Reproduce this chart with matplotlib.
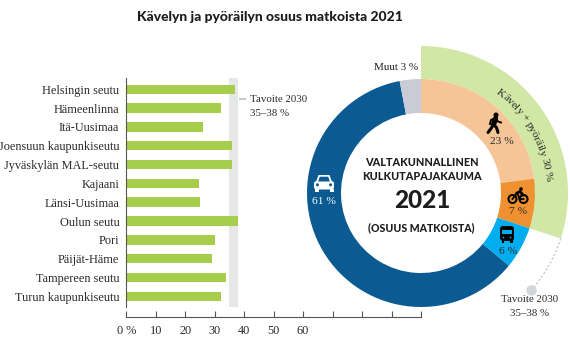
import matplotlib
matplotlib.use("Agg")
import matplotlib.pyplot as plt
from matplotlib.patches import Circle, FancyBboxPatch, Rectangle, Polygon
from matplotlib.textpath import TextPath
from matplotlib.font_manager import FontProperties
import numpy as np

W, H = 570, 350
SERIF = "Liberation Serif"
SANS = "Lato"
TEXT = "#2b2a29"

regions = ["Helsingin seutu", "Hämeenlinna", "Itä-Uusimaa", "Joensuun kaupunkiseutu",
           "Jyväskylän MAL-seutu", "Kajaani", "Länsi-Uusimaa", "Oulun seutu", "Pori",
           "Päijät-Häme", "Tampereen seutu", "Turun kaupunkiseutu"]
shares = [37, 32, 26, 36, 36, 24.7, 25, 38, 30, 29, 34, 32]
target = (35, 38)
x_ticks = [0, 10, 20, 30, 40, 50, 60, 70, 80, 90, 100]
x_labels = ["0 %", "10", "20", "30", "40", "50", "60", "", "", "", ""]

modes = ["Kävely", "Pyöräily", "Joukkoliikenne", "Henkilöauto", "Muut"]
mode_shares = [23, 7, 6, 61, 3]
mode_colors = ["#f5c597", "#ef9130", "#00aeef", "#0b5a92", "#c9ccd5"]
active_share = [30, 70]
target_mid = 36.5

fig = plt.figure(figsize=(W / 100, H / 100), dpi=100, facecolor="white")


def px_axes(left, top, right, bottom):
    return fig.add_axes([left / W, 1 - bottom / H, (right - left) / W, (bottom - top) / H])


# ---------- bars ----------
ax = px_axes(126.3, 78, 421, 307)
ax.set_xlim(0, 100)
ax.set_ylim(11.57, -0.6)
ax.patch.set_alpha(0)
ax.axvspan(*target, color="#e6e7e8", lw=0, zorder=1)
ax.barh(range(len(regions)), shares, height=0.5, color="#a6ce4c", zorder=2)
for s in ("top", "right"):
    ax.spines[s].set_visible(False)
ax.spines["left"].set_color("#555555")
ax.spines["left"].set_linewidth(0.8)
ax.spines["bottom"].set_position(("outward", 7.2))
ax.spines["bottom"].set_color("#555555")
ax.spines["bottom"].set_linewidth(0.8)
ax.set_yticks(range(len(regions)), regions, family=SERIF, fontsize=8.8, color=TEXT,
              va="center_baseline")
ax.tick_params(axis="y", length=0, pad=5)
ax.set_xticks(x_ticks, x_labels, family=SERIF, fontsize=8.8, color=TEXT)
ax.tick_params(axis="x", direction="in", length=4, width=0.8, color="#555555", pad=5.5)

# ---------- donut ----------
R_OUT = 147
R = 114
R_IN = 80
dx = px_axes(421 - 150, 193 - 150, 421 + 150, 193 + 150)
dx.patch.set_alpha(0)
dx.pie(active_share, colors=["#d1e7a6", "none"], startangle=90, counterclock=False,
       radius=R_OUT, wedgeprops=dict(width=R_OUT - R, lw=0))
dx.pie(mode_shares, colors=mode_colors, startangle=90, counterclock=False,
       radius=R, wedgeprops=dict(width=R - R_IN, lw=0))
dx.set_xlim(-150, 150)
dx.set_ylim(-150, 150)
dx.set_aspect("equal")

# target arc (clockwise from the end of the green band)
a = np.radians(np.linspace(active_share[0] * 3.6, target_mid * 3.6, 30))
dx.plot(R_OUT * np.sin(a), R_OUT * np.cos(a), ls=(0, (1.5, 1.5)), lw=1, color="#c8cacb")
dx.plot([R_OUT * np.sin(a[-1])], [R_OUT * np.cos(a[-1])], "o", ms=6.5, color="#d4d6d7")

# ---------- overlay in pixel coordinates ----------
ov = px_axes(0, 0, W, H)
ov.set_xlim(0, W)
ov.set_ylim(H, 0)
ov.axis("off")
ov.patch.set_alpha(0)


def T(x, y, s, fam=SERIF, size=8.9, c=TEXT, ha="center", w="normal", **kw):
    ov.text(x, y, s, family=fam, fontsize=size, color=c, ha=ha, va="center", weight=w, **kw)


T(269.5, 17, "Kävelyn ja pyöräilyn osuus matkoista 2021", SANS, 10.0, "#1d1d1b", w="black")
T(250, 99, "Tavoite 2030", ha="left", size=7.8)
T(250, 113, "35–38 %", ha="left", size=7.8)
ov.plot([239, 246], [99, 99], color="#c8cacb", lw=1.6, solid_capstyle="butt")

T(418, 68, "Muut 3 %", ha="right", size=8.0, c="#1d1d1b")
T(530, 300, "Tavoite 2030", size=7.8)
T(530, 313.5, "35–38 %", size=7.8)
T(501.5, 141, "23 %", size=8.2)
T(518, 212, "7 %", size=8.2)
T(508, 251, "6 %", size=8.2)
T(324, 201, "61 %", size=8.2, c="white")

T(422, 162, "VALTAKUNNALLINEN", SANS, 7.8, "#1d1d1b", w="black")
T(422, 176, "KULKUTAPAJAKAUMA", SANS, 7.8, "#1d1d1b", w="black")
T(422, 200, "2021", SANS, 17.5, "#1d1d1b", w="black")
T(421, 228, "(OSUUS MATKOISTA)", SANS, 7.6, "#1d1d1b", w="black")

# curved label: glyphs on a common baseline, spaced by font advances
label = "Kävely + pyöräily 30 %"
size = 8.2
fp = FontProperties(family=SERIF, size=size)
r_base = 125
start = 37.0
span = 47.5


def adv(s):
    e = TextPath((0, 0), s + "|", prop=fp).get_extents()
    return e.x1


bar = adv("")
cum = [0.0] + [adv(label[:i + 1]) - bar for i in range(len(label))]
scale = np.radians(span) / cum[-1]
for i, ch in enumerate(label):
    th = start + np.degrees((cum[i] + cum[i + 1]) / 2 * scale)
    x = 421 + r_base * np.sin(np.radians(th))
    y = 193 - r_base * np.cos(np.radians(th))
    ov.text(x, y, ch, family=SERIF, fontsize=size, color=TEXT, rotation=-th,
            rotation_mode="anchor", ha="center", va="baseline")

# icons
k = "#000000"
# walker
cx, cy = 494, 123
ov.add_patch(Circle((cx + 2, cy - 8), 2.5, color=k, lw=0))
ov.plot([cx + 1.5, cx - 0.5], [cy - 4.5, cy + 1.5], color=k, lw=3.8, solid_capstyle="round")
ov.plot([cx - 0.5, cx - 3, cx - 6], [cy + 1.5, cy + 5.5, cy + 9.5], color=k, lw=2.2, solid_capstyle="round")
ov.plot([cx - 0.5, cx + 2.5, cx + 4], [cy + 1.5, cy + 4.5, cy + 9.5], color=k, lw=2.2, solid_capstyle="round")
ov.plot([cx + 1.5, cx - 3, cx - 4], [cy - 5, cy - 3, cy + 1], color=k, lw=1.4)
ov.plot([cx + 1.5, cx + 4, cx + 7], [cy - 5, cy - 1.5, cy - 0.5], color=k, lw=1.4)

# bike
cx, cy = 518, 196
for ox in (-5.5, 5.5):
    ov.add_patch(Circle((cx + ox, cy + 3), 4, fc="none", ec=k, lw=1.5))
ov.add_patch(Circle((cx + 3, cy - 7), 1.8, color=k, lw=0))
ov.plot([cx - 5.5, cx - 1, cx + 2, cx + 5.5], [cy + 3, cy - 3, cy + 3, cy + 3], color=k, lw=1.3)
ov.plot([cx - 1, cx + 2, cx + 5], [cy - 3, cy - 4.5, cy - 1], color=k, lw=2)

# bus
cx, cy = 507, 234
ov.add_patch(FancyBboxPatch((cx - 6.5, cy - 7.5), 13, 14, boxstyle="round,pad=0,rounding_size=2.5", fc=k, ec=k, lw=0.6))
ov.add_patch(Rectangle((cx - 4.6, cy - 4.5), 4.2, 4.5, fc="#00aeef", lw=0))
ov.add_patch(Rectangle((cx + 0.4, cy - 4.5), 4.2, 4.5, fc="#00aeef", lw=0))
ov.add_patch(Circle((cx - 3.5, cy + 3.5), 0.9, color="#00aeef", lw=0))
ov.add_patch(Circle((cx + 3.5, cy + 3.5), 0.9, color="#00aeef", lw=0))
ov.add_patch(Rectangle((cx - 5.5, cy + 6), 2.6, 2.5, fc=k, lw=0))
ov.add_patch(Rectangle((cx + 2.9, cy + 6), 2.6, 2.5, fc=k, lw=0))

# car
cx, cy = 324, 183
wh = "white"
ov.add_patch(FancyBboxPatch((cx - 10, cy - 2), 20, 8.5, boxstyle="round,pad=0,rounding_size=2.5", fc=wh, lw=0))
ov.add_patch(Polygon([(cx - 8, cy - 1), (cx - 5.5, cy - 8), (cx + 5.5, cy - 8), (cx + 8, cy - 1)], fc=wh, lw=0))
ov.add_patch(Polygon([(cx - 5.8, cy - 1.5), (cx - 4.2, cy - 6.3), (cx + 4.2, cy - 6.3), (cx + 5.8, cy - 1.5)], fc="#0b5a92", lw=0))
ov.add_patch(Circle((cx - 6.5, cy + 1.8), 1.5, color="#0b5a92", lw=0))
ov.add_patch(Circle((cx + 6.5, cy + 1.8), 1.5, color="#0b5a92", lw=0))
ov.add_patch(Rectangle((cx - 9.5, cy + 6), 4, 2.8, fc=wh, lw=0))
ov.add_patch(Rectangle((cx + 5.5, cy + 6), 4, 2.8, fc=wh, lw=0))

fig.savefig("out.png", dpi=100, facecolor="white")
